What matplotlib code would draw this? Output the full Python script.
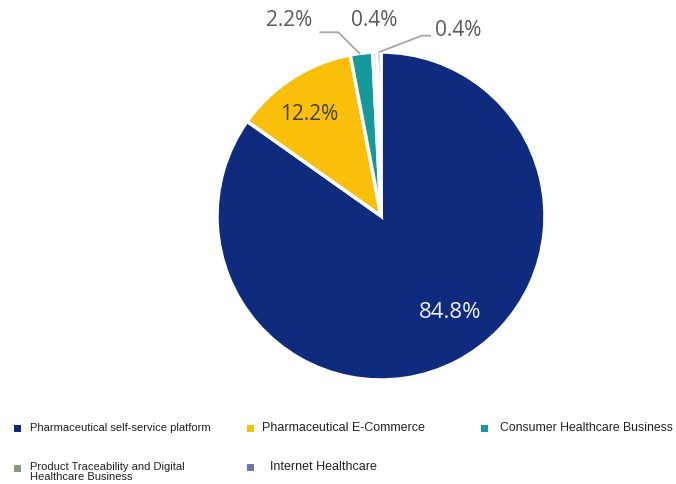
import matplotlib.pyplot as plt
from matplotlib.patches import Rectangle

segments = ["Pharmaceutical self-service platform", "Pharmaceutical E-Commerce",
            "Consumer Healthcare Business",
            "Product Traceability and Digital\nHealthcare Business", "Internet Healthcare"]
shares = [84.8, 12.2, 2.2, 0.4, 0.4]
labels = ["84.8%", "12.2%", "2.2%", "0.4%", "0.4%"]
colors = ["#0E2B7D", "#F9BF0A", "#16999A", "#8E9B7C", "#6E76AD"]

fig = plt.figure(figsize=(6.76, 4.84), dpi=100)
W, H = 676, 484
cx, cy, r = 381, 216, 164
ax = fig.add_axes([(cx - r) / W, 1 - (cy + r) / H, 2 * r / W, 2 * r / H])
ax.pie(shares, colors=colors, startangle=90, counterclock=False,
       wedgeprops=dict(edgecolor="white", linewidth=2.5))
ax.set_xlim(-1, 1)
ax.set_ylim(-1, 1)
ax.set_aspect("equal")
ax.axis("off")

num_font = "Open Sans"
# inside labels
ax.text(0.42, -0.59, labels[0], color="#F2F2F2", fontsize=16, family=num_font,
        ha="center", va="center")
ax.text(-0.44, 0.62, labels[1], color="#404040", fontsize=15, family=num_font,
        ha="center", va="center")

# outside labels with leader lines
line_kw = dict(color="#A6A6A6", linewidth=1.3, clip_on=False)
ax.text(-0.56, 1.19, labels[2], color="#595959", fontsize=15, family=num_font,
        ha="center", va="center")
ax.plot([-0.37, -0.26, -0.13], [1.12, 1.12, 0.99], **line_kw)
ax.text(-0.04, 1.19, labels[3], color="#595959", fontsize=15, family=num_font,
        ha="center", va="center")
ax.text(0.47, 1.13, labels[4], color="#595959", fontsize=15, family=num_font,
        ha="center", va="center")
ax.plot([0.30, 0.25, -0.01], [1.10, 1.10, 1.00], **line_kw)

# legend laid out as in the source: marker x, text x, row y (pixels), font size
legend_font = "Liberation Sans"
legend_pos = [(17, 30, 428, 8), (250, 262, 428, 9), (484, 500, 428, 8.8),
              (17, 30, 468, 8), (250, 270, 467, 9)]
for i, (mx, tx, y, fs) in enumerate(legend_pos):
    s = 7
    fig.add_artist(Rectangle(((mx - s / 2) / W, 1 - (y + s / 2) / H), s / W, s / H,
                             facecolor=colors[i], edgecolor="none",
                             transform=fig.transFigure))
    if "\n" in segments[i]:
        fig.text(tx / W, 1 - (y - 6) / H, segments[i], fontsize=fs, va="top",
                 ha="left", linespacing=0.95, color="#222222", family=legend_font)
    else:
        fig.text(tx / W, 1 - y / H, segments[i], fontsize=fs, va="center",
                 ha="left", color="#222222", family=legend_font)

fig.savefig("out.png", dpi=100)
